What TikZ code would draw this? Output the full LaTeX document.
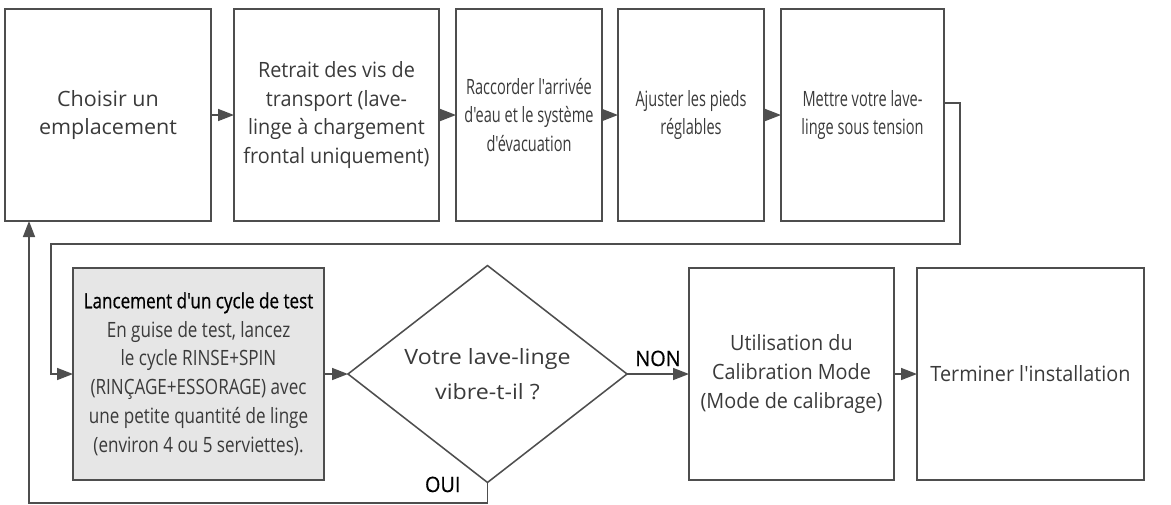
\documentclass[tikz,border=0pt]{standalone}
\usepackage{fontspec}
\setmainfont{Open Sans}[Ligatures=TeXOff,FakeStretch=0.94]
\newfontfamily\wideface{Open Sans}[Ligatures=TeXOff,FakeStretch=1.02]
\newfontfamily\askface{Open Sans}[Ligatures=TeXOff,FakeStretch=1.1]
\newfontfamily\narrowface{Open Sans}[Ligatures=TeXOff,FakeStretch=0.69]
\newfontfamily\midface{Open Sans}[Ligatures=TeXOff,FakeStretch=0.81]
\newfontfamily\titleface{Open Sans}[Ligatures=TeXOff,FakeStretch=0.81,FakeBold=0.6]
\newfontfamily\answerface{Open Sans}[Ligatures=TeXOff,FakeStretch=0.94,FakeBold=0.6]
\usetikzlibrary{positioning}
\usetikzlibrary{shapes.geometric}
\usetikzlibrary{arrows.meta}

\definecolor{linegray}{HTML}{4E4E4E}
\definecolor{textgray}{HTML}{3A3A3A}
\definecolor{boxfill}{HTML}{E6E6E6}

\tikzset{
  stepbox/.style={draw=linegray,line width=1.1pt,minimum height=5.3cm,inner sep=2pt,outer sep=0pt,
    align=center,text=textgray,font=\fontsize{15}{20.5}\selectfont},
  widetext/.style={font=\fontsize{15}{20.5}\selectfont\wideface},
  narrowtext/.style={font=\fontsize{15}{20.5}\selectfont\narrowface},
  midtext/.style={font=\fontsize{15}{20.5}\selectfont\midface},
  decision/.style={diamond,draw=linegray,line width=1.1pt,minimum width=6.975cm,
    minimum height=5.25cm,inner sep=0pt,outer sep=0pt,align=center,text=textgray,
    font=\fontsize{15}{20.5}\selectfont\askface},
  answer/.style={text=black,font=\fontsize{15}{18}\selectfont\answerface,inner sep=2pt},
  flow/.style={draw=linegray,line width=1.1pt,->,>={Triangle[length=0.4cm,width=0.3cm]}},
}

\begin{document}
\begin{tikzpicture}
\useasboundingbox (0,0) rectangle (29.275,-12.6);

  % first row
  \node[stepbox,widetext,minimum width=5.15cm] at (2.7,-2.875) (choose) {Choisir un\\emplacement};
  \node[stepbox,minimum width=5.125cm,right=0.575cm of choose] (screws)
    {Retrait des vis de\\transport (lave-\\linge à chargement\\frontal uniquement)};
  \node[stepbox,narrowtext,minimum width=3.65cm,right=0.425cm of screws] (hoses)
    {Raccorder l'arrivée\\d'eau et le système\\d'évacuation};
  \node[stepbox,narrowtext,minimum width=3.65cm,right=0.4cm of hoses] (feet) {Ajuster les pieds\\réglables};
  \node[stepbox,narrowtext,minimum width=4.075cm,right=0.425cm of feet] (power) {Mettre votre lave-\\linge sous tension};

  % second row
  \node[stepbox,midtext,fill=boxfill,minimum width=6.275cm] at (4.9625,-9.35) (testrun)
    {{\titleface\color{black}Lancement d'un cycle de test}\\En guise de test, lancez\\le cycle RINSE+SPIN\\(RINÇAGE+ESSORAGE) avec\\une petite quantité de linge\\(environ 4 ou 5 serviettes).};
  \node[decision,right=0.6cm of testrun] (vibrates) {Votre lave-linge\\[4pt]vibre-t-il ?};
  \node[stepbox,minimum width=5.125cm,right=1.55cm of vibrates] (calib)
    {Utilisation du\\Calibration Mode\\(Mode de calibrage)};
  \node[stepbox,minimum width=5.675cm,right=0.575cm of calib] (finish) {Terminer l'installation};

  % loop points
  \coordinate (wrapL) at (1.275,-6.1);
  \coordinate (backB) at (0.725,-12.575);

  % arrows along the rows
  \draw[flow] (choose) -- (screws);
  \draw[flow] (screws) -- (hoses);
  \draw[flow] (hoses) -- (feet);
  \draw[flow] (feet) -- (power);
  \draw[flow] (power.east) ++(0,0.3) -- ++(0.4,0) |- (wrapL) |- (testrun.west);
  \draw[flow] (testrun) -- (vibrates);
  \draw[flow] (vibrates) -- (calib) node[midway,above=3pt,answer] {NON};
  \draw[flow] (calib) -- (finish);

  % back to the start
  \draw[flow] (vibrates.south) |- (backB) -- (backB |- choose.south);
  \node[answer,anchor=east] at ([xshift=-6mm,yshift=-0.5mm]vibrates.south) {OUI};

\end{tikzpicture}
\end{document}
